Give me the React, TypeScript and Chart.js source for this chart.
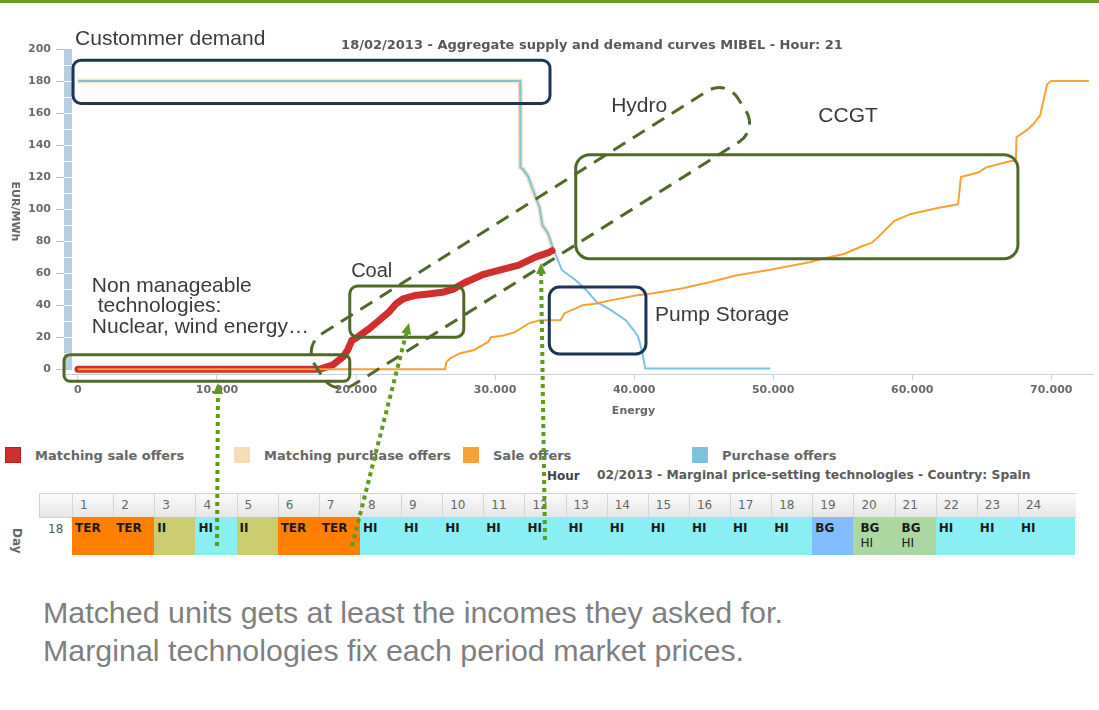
import React, { useEffect, useRef } from "react";
import { Chart, registerables } from "chart.js";

Chart.register(...registerables);

// ---------- data ----------
const saleOffersX = [0, 26400, 26500, 26800, 27500, 28500, 29500, 29700, 30600, 31400, 32400, 33200, 34700, 35000, 35800, 36300, 37300, 38300, 40100, 41400, 43500, 45500, 47300, 49700, 52700, 53500, 55100, 56300, 57100, 57600, 58700, 59900, 62000, 63300, 63500, 64800, 65300, 66600, 67100, 67450, 67500, 68200, 68700, 69200, 69700, 70000, 72700];
const saleOffersY = [0, 0, 4.5, 7, 10, 12, 17, 20, 21, 23, 28.5, 30.5, 30.5, 35, 38, 40, 41, 43, 46, 47.5, 50.5, 54.5, 58.5, 62, 67, 69, 72, 76.5, 79, 83, 92.5, 97, 101, 103, 120, 123, 126, 129, 130, 130, 145, 149, 153, 158.5, 178, 180, 180];

const matchingSaleX = [0, 17400, 18300, 19100, 19400, 19700, 20100, 20900, 21600, 22400, 22900, 23400, 24200, 25200, 26200, 27000, 27800, 29100, 30400, 31700, 32900, 33900, 34100];
const matchingSaleY = [0, 0, 2.5, 8, 12, 18, 20, 25, 30, 36, 41, 44, 46, 47, 48, 50, 54, 59, 62, 65, 70, 73, 74];

const purchaseX = [0, 31800, 31800, 31850, 32000, 32400, 32600, 33200, 33400, 33800, 34200, 34800, 35800, 36600, 37300, 38300, 39400, 40000, 40300, 40600, 40800, 49800];
const purchaseY = [180, 180, 140, 126, 125, 120, 115, 101, 90, 85, 75, 62, 55.6, 49, 42, 37, 30.6, 24, 20, 10, 0.5, 0.5];

const matchingPurchaseX = [0, 31800, 31800, 31850, 32000, 32400, 32600, 33200, 33400, 33800, 34100];
const matchingPurchaseY = [180, 180, 140, 126, 125, 120, 115, 101, 90, 85, 76];

const xTickValues = [0, 10000, 20000, 30000, 40000, 50000, 60000, 70000];
const yTickValues = [0, 20, 40, 60, 80, 100, 120, 140, 160, 180, 200];

const legendLabels = ["Matching sale offers", "Matching purchase offers", "Sale offers", "Purchase offers"];
const hourLabels = ["1", "2", "3", "4", "5", "6", "7", "8", "9", "10", "11", "12", "13", "14", "15", "16", "17", "18", "19", "20", "21", "22", "23", "24"];
const hourTechs = ["TER", "TER", "II", "HI", "II", "TER", "TER", "HI", "HI", "HI", "HI", "HI", "HI", "HI", "HI", "HI", "HI", "HI", "BG", "BG HI", "BG HI", "HI", "HI", "HI"];

const chartTitle = "18/02/2013 - Aggregate supply and demand curves MIBEL - Hour: 21";
const tableTitle = "02/2013 - Marginal price-setting technologies - Country: Spain";

// ---------- styles ----------
const C_SALE = "#f7a136";
const C_MSALE = "#d12e2e";
const C_PURCH = "#7cc3e0";
const C_MPURCH = "#f7e3c0";
const C_MPURCH_LEGEND = "#f6dcb0";
const NAVY = "#1c3557";
const GREEN = "#4f6a28";
const ARROW = "#5e9a1e";
const TECH_COLORS: Record<string, string> = {
  TER: "#ff8000",
  II: "#cbcb6f",
  HI: "#8aeff3",
  BG: "#82bdff",
  "BG HI": "#aad8a0",
};

const zip = (xs: number[], ys: number[]) => xs.map((x, i) => ({ x, y: ys[i] }));

// annotation overlay (anchored in data coordinates)
const boxes = [
  { x0: -350, y0: 193, x1: 33950, y1: 166, color: NAVY, r: 8 },
  { x0: 35800, y0: 134, x1: 67600, y1: 69, color: GREEN, r: 14 },
  { x0: 19550, y0: 52, x1: 27750, y1: 20, color: GREEN, r: 8 },
  { x0: -1000, y0: 9, x1: 19550, y1: -7.5, color: GREEN, r: 6 },
  { x0: 33900, y0: 51.3, x1: 40850, y1: 9.5, color: NAVY, r: 10 },
];
const labels = [
  { text: "Custommer demand", x: -200, y: 206, size: 21 },
  { text: "Hydro", x: 38350, y: 164, size: 21 },
  { text: "CCGT", x: 53250, y: 158, size: 21 },
  { text: "Coal", x: 19650, y: 61, size: 20 },
  { text: "Non manageable", x: 1000, y: 52, size: 21 },
  { text: " technologies:", x: 1000, y: 39.3, size: 21 },
  { text: "Nuclear, wind energy…", x: 1000, y: 26.4, size: 21 },
  { text: "Pump Storage", x: 41500, y: 34, size: 21 },
];
const hydroShape = { x: 32540, y: 82, length: 500, width: 60, angle: -32.2, r: 22 };
const arrows = [
  { sx: 217, sy: 546, x: 10076, y: -8.6 },
  { sx: 352, sy: 546, x: 23810, y: 28.85 },
  { sx: 545, sy: 540, x: 33300, y: 66.35 },
];

function roundRectPath(ctx: CanvasRenderingContext2D, x: number, y: number, w: number, h: number, r: number) {
  ctx.beginPath();
  ctx.moveTo(x + r, y);
  ctx.arcTo(x + w, y, x + w, y + h, r);
  ctx.arcTo(x + w, y + h, x, y + h, r);
  ctx.arcTo(x, y + h, x, y, r);
  ctx.arcTo(x, y, x + w, y, r);
  ctx.closePath();
}

const underlayPlugin = {
  id: "underlay",
  beforeDatasetsDraw(chart: any) {
    const { ctx, chartArea } = chart;
    const ys = chart.scales.y;
    ctx.save();
    ctx.fillStyle = "#b7cde2";
    const top = ys.getPixelForValue(200);
    const bot = ys.getPixelForValue(-0.5);
    ctx.fillRect(chartArea.left, top, 8, bot - top);
    ctx.strokeStyle = "#ffffff";
    ctx.lineWidth = 1;
    for (let v = 10; v < 200; v += 10) {
      const p = Math.round(ys.getPixelForValue(v)) + 0.5;
      ctx.beginPath();
      ctx.moveTo(chartArea.left, p);
      ctx.lineTo(chartArea.left + 8, p);
      ctx.stroke();
    }
    ctx.restore();
  },
};

const overlayPlugin = {
  id: "overlay",
  afterDraw(chart: any) {
    const { ctx, chartArea } = chart;
    const X = (v: number) => chart.scales.x.getPixelForValue(v);
    const Y = (v: number) => chart.scales.y.getPixelForValue(v);
    ctx.save();

    // chart title
    ctx.font = 'bold 13px "DejaVu Sans"';
    ctx.fillStyle = "#585858";
    ctx.textAlign = "center";
    ctx.textBaseline = "middle";
    ctx.fillText(chartTitle, 592, 46);

    // axis titles
    ctx.font = 'bold 11px "DejaVu Sans"';
    ctx.fillStyle = "#666";
    ctx.fillText("Energy", (chartArea.left + chartArea.right) / 2 + 55, 411);
    ctx.save();
    ctx.translate(15, (chartArea.top + chartArea.bottom) / 2);
    ctx.rotate(Math.PI / 2);
    ctx.fillText("EUR/MWh", 0, 0);
    ctx.restore();

    // boxes
    ctx.lineWidth = 3;
    for (const b of boxes) {
      const x0 = X(b.x0), x1 = X(b.x1), y0 = Y(b.y0), y1 = Y(b.y1);
      ctx.strokeStyle = b.color;
      roundRectPath(ctx, x0, y0, x1 - x0, y1 - y0, b.r);
      ctx.stroke();
    }

    // hydro dashed shape
    ctx.save();
    ctx.translate(X(hydroShape.x), Y(hydroShape.y));
    ctx.rotate((hydroShape.angle * Math.PI) / 180);
    ctx.setLineDash([14, 9]);
    ctx.strokeStyle = GREEN;
    ctx.lineWidth = 3;
    roundRectPath(ctx, -hydroShape.length / 2, -hydroShape.width / 2, hydroShape.length, hydroShape.width, hydroShape.r);
    ctx.stroke();
    ctx.restore();

    // labels
    ctx.textAlign = "left";
    ctx.textBaseline = "middle";
    ctx.fillStyle = "#3b3b3b";
    for (const l of labels) {
      ctx.font = `${l.size}px "Liberation Sans"`;
      ctx.fillText(l.text, X(l.x), Y(l.y));
    }

    // dotted arrows
    for (const a of arrows) {
      const ex = X(a.x), ey = Y(a.y);
      const dx = ex - a.sx, dy = ey - a.sy;
      const len = Math.hypot(dx, dy);
      const ux = dx / len, uy = dy / len;
      const hl = 11, hw = 5;
      ctx.strokeStyle = ARROW;
      ctx.fillStyle = ARROW;
      ctx.lineWidth = 4;
      ctx.setLineDash([4, 4]);
      ctx.beginPath();
      ctx.moveTo(a.sx, a.sy);
      ctx.lineTo(ex - ux * hl, ey - uy * hl);
      ctx.stroke();
      ctx.setLineDash([]);
      ctx.beginPath();
      ctx.moveTo(ex, ey);
      ctx.lineTo(ex - ux * hl - uy * hw, ey - uy * hl + ux * hw);
      ctx.lineTo(ex - ux * hl + uy * hw, ey - uy * hl - ux * hw);
      ctx.closePath();
      ctx.fill();
    }
    ctx.restore();
  },
};

const fmtThousands = (v: number) => (v === 0 ? "0" : `${Math.round(v / 1000)}.000`);

export default function App() {
  const canvasRef = useRef<HTMLCanvasElement | null>(null);

  useEffect(() => {
    if (!canvasRef.current) return;
    const chart = new Chart(canvasRef.current, {
      type: "line",
      data: {
        datasets: [
          { label: "Sale offers", data: zip(saleOffersX, saleOffersY), borderColor: C_SALE, borderWidth: 2 },
          { label: "Matching sale offers", data: zip(matchingSaleX, matchingSaleY), borderColor: C_MSALE, borderWidth: 7, borderCapStyle: "round", borderJoinStyle: "round" },
          { label: "Purchase offers", data: zip(purchaseX, purchaseY), borderColor: C_PURCH, borderWidth: 2 },
          { label: "Matching purchase offers", data: zip(matchingPurchaseX, matchingPurchaseY), borderColor: C_MPURCH, borderWidth: 5 },
        ] as any,
      },
      options: {
        responsive: false,
        maintainAspectRatio: false,
        animation: false,
        parsing: false as any,
        normalized: true,
        layout: { padding: { top: 49, right: 6, left: 0, bottom: 0 } },
        elements: { point: { radius: 0 }, line: { tension: 0, fill: false } },
        plugins: {
          legend: { display: false },
          title: { display: false },
          tooltip: { enabled: false },
        },
        scales: {
          x: {
            type: "linear",
            min: -1000,
            max: 73000,
            afterBuildTicks: (s: any) => {
              s.ticks = xTickValues.map((v) => ({ value: v }));
            },
            afterFit: (s: any) => {
              s.height = 336;
            },
            grid: { drawOnChartArea: false, color: "#c6d3e0", tickLength: 6 },
            border: { color: "#c6d3e0", width: 1 },
            ticks: {
              autoSkip: false,
              maxRotation: 0,
              padding: 4,
              color: "#6a6a6a",
              font: { family: "DejaVu Sans", size: 11, weight: "bold" },
              callback: (v: any) => fmtThousands(Number(v)),
            },
          },
          y: {
            min: -3,
            max: 200,
            afterBuildTicks: (s: any) => {
              s.ticks = yTickValues.map((v) => ({ value: v }));
            },
            afterFit: (s: any) => {
              s.width = 64;
            },
            grid: { drawOnChartArea: false, color: "#c0c0c0", tickLength: 8 },
            border: { display: false },
            ticks: {
              autoSkip: false,
              padding: 5,
              color: "#6a6a6a",
              font: { family: "DejaVu Sans", size: 11, weight: "bold" },
            },
          },
        },
      } as any,
      plugins: [underlayPlugin, overlayPlugin],
    });
    return () => chart.destroy();
  }, []);

  const legendColors = [C_MSALE, C_MPURCH_LEGEND, C_SALE, C_PURCH];
  const cellW = 41.13;
  const firstHourLeft = 72;
  const tableRight = 1075;

  return (
    <div
      style={{
        position: "fixed",
        left: 0,
        top: 0,
        width: 1099,
        height: 710,
        background: "#ffffff",
        overflow: "hidden",
        fontFamily: '"DejaVu Sans", sans-serif',
      }}
    >
      <div style={{ position: "absolute", left: 0, top: 0, width: 1099, height: 3, background: "#6a9a22" }} />

      {/* legend */}
      {legendLabels.map((l, i) => (
        <div key={l} style={{ position: "absolute", left: 5 + i * 229, top: 446, height: 18, display: "flex", alignItems: "center" }}>
          <div style={{ width: 16, height: 16, background: legendColors[i], boxSizing: "border-box", border: i === 0 ? "1px solid #b52222" : "none" }} />
          <span style={{ marginLeft: 14, fontSize: 13, fontWeight: "bold", color: "#666", whiteSpace: "nowrap" }}>{l}</span>
        </div>
      ))}

      {/* table title */}
      <div style={{ position: "absolute", left: 547, top: 469, fontSize: 12, fontWeight: "bold", color: "#444", whiteSpace: "nowrap" }}>Hour</div>
      <div style={{ position: "absolute", left: 597, top: 468, fontSize: 12.3, fontWeight: "bold", color: "#5a5a5a", whiteSpace: "nowrap" }}>{tableTitle}</div>

      {/* Day label */}
      <div style={{ position: "absolute", left: 10, top: 528, writingMode: "vertical-rl", fontSize: 12, fontWeight: "bold", color: "#666" }}>Day</div>

      {/* header row */}
      <div
        style={{
          position: "absolute",
          left: 39,
          top: 493,
          width: tableRight - 39,
          height: 23,
          background: "linear-gradient(#fbfbfb, #e6e6e6)",
          borderTop: "1px solid #d2d2d2",
          borderBottom: "1px solid #d2d2d2",
          borderLeft: "1px solid #d2d2d2",
        }}
      />
      {hourLabels.map((h, i) => {
        const left = firstHourLeft + i * cellW;
        const w = i === hourLabels.length - 1 ? tableRight - left : cellW;
        return (
          <div
            key={"h" + h}
            style={{
              position: "absolute",
              left,
              top: 494,
              width: w,
              height: 23,
              boxSizing: "border-box",
              borderLeft: "1px solid #d6d6d6",
              paddingLeft: 7,
              lineHeight: "23px",
              fontSize: 12,
              color: "#666",
            }}
          >
            {h}
          </div>
        );
      })}

      {/* data row */}
      <div style={{ position: "absolute", left: 39, top: 517, width: 33, height: 38, boxSizing: "border-box", paddingLeft: 9, paddingTop: 5, fontSize: 12, color: "#555" }}>18</div>
      {hourTechs.map((t, i) => {
        const left = firstHourLeft + i * cellW;
        const w = i === hourTechs.length - 1 ? tableRight - left : cellW + 0.5;
        const parts = t.split(" ");
        return (
          <div
            key={"t" + i}
            style={{
              position: "absolute",
              left,
              top: 517,
              width: w,
              height: 38,
              background: TECH_COLORS[t],
              boxSizing: "border-box",
              paddingLeft: parts.length > 1 ? 7 : 3,
              paddingTop: 4,
              fontSize: 12,
              lineHeight: "15px",
              color: "#1a1a1a",
            }}
          >
            <div style={{ fontWeight: "bold" }}>{parts[0]}</div>
            {parts[1] && <div>{parts[1]}</div>}
          </div>
        );
      })}

      {/* bottom text */}
      <div
        style={{
          position: "absolute",
          left: 43,
          top: 593,
          fontFamily: '"Liberation Sans", Arial, sans-serif',
          fontSize: 30.4,
          lineHeight: "38px",
          color: "#7f7f7f",
          whiteSpace: "nowrap",
        }}
      >
        <div>Matched units gets at least the incomes they asked for.</div>
        <div>Marginal technologies fix each period market prices.</div>
      </div>

      <canvas
        ref={canvasRef}
        width={1099}
        height={710}
        style={{ position: "absolute", left: 0, top: 0, zIndex: 2, pointerEvents: "none" }}
      />
    </div>
  );
}
